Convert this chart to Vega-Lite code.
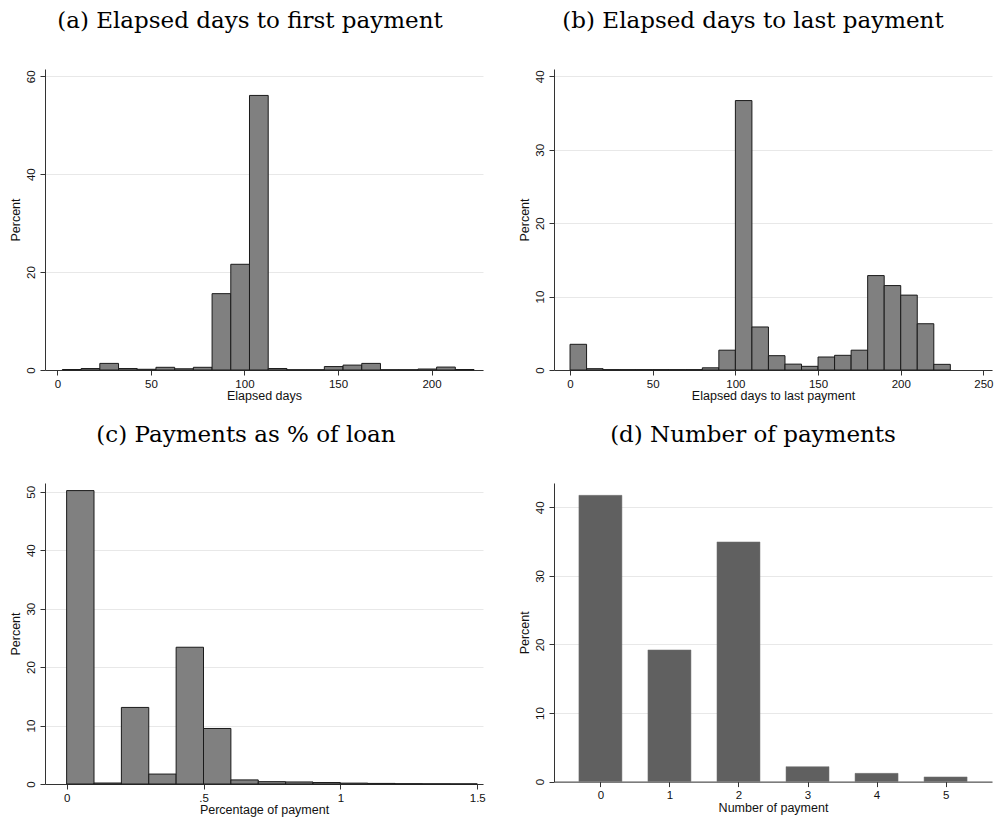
{
  "$schema": "https://vega.github.io/schema/vega-lite/v6.json",
  "autosize": {"type": "none"},
  "padding": {"left": 45, "top": 69, "right": 951, "bottom": 749},
  "background": "white",
  "config": {
    "view": {"stroke": null},
    "axis": {
      "domainColor": "#333333",
      "tickColor": "#333333",
      "labelFont": "Liberation Sans",
      "titleFont": "Liberation Sans",
      "labelFontSize": 11.5,
      "titleFontSize": 12.5,
      "labelColor": "#111111",
      "titleColor": "#111111",
      "titleFontWeight": "normal",
      "tickSize": 5,
      "grid": false,
      "domainWidth": 1
    },
    "axisY": {"grid": true, "gridColor": "#e8e8e8", "labelAngle": 270, "labelPadding": 4, "titlePadding": 3},
    "axisX": {"labelPadding": 3, "titlePadding": 0},
    "title": {
      "font": "DejaVu Serif",
      "fontSize": 23,
      "fontWeight": "normal",
      "color": "#000000",
      "anchor": "middle",
      "frame": "group",
      "offset": 36,
      "baseline": "alphabetic"
    }
  },
  "columns": 2,
  "bounds": "flush",
  "spacing": {"row": 113, "column": 71},
  "concat": [
    {
      "width": 438,
      "height": 301,
      "title": {"text": "(a) Elapsed days to first payment", "dx": -14},
      "data": {"values": [
        {"lo": 2.7, "hi": 12.7, "percent": 0.1},
        {"lo": 12.7, "hi": 22.7, "percent": 0.3},
        {"lo": 22.7, "hi": 32.7, "percent": 1.35},
        {"lo": 32.7, "hi": 42.7, "percent": 0.3},
        {"lo": 42.7, "hi": 52.7, "percent": 0.15},
        {"lo": 52.7, "hi": 62.7, "percent": 0.55},
        {"lo": 62.7, "hi": 72.7, "percent": 0.25},
        {"lo": 72.7, "hi": 82.7, "percent": 0.55},
        {"lo": 82.7, "hi": 92.7, "percent": 15.6},
        {"lo": 92.7, "hi": 102.7, "percent": 21.6},
        {"lo": 102.7, "hi": 112.7, "percent": 56.1},
        {"lo": 112.7, "hi": 122.7, "percent": 0.3},
        {"lo": 122.7, "hi": 132.7, "percent": 0.05},
        {"lo": 132.7, "hi": 142.7, "percent": 0.05},
        {"lo": 142.7, "hi": 152.7, "percent": 0.7},
        {"lo": 152.7, "hi": 162.7, "percent": 1.0},
        {"lo": 162.7, "hi": 172.7, "percent": 1.35},
        {"lo": 172.7, "hi": 182.7, "percent": 0.05},
        {"lo": 182.7, "hi": 192.7, "percent": 0.05},
        {"lo": 192.7, "hi": 202.7, "percent": 0.2},
        {"lo": 202.7, "hi": 212.7, "percent": 0.6},
        {"lo": 212.7, "hi": 222.7, "percent": 0.1}
      ]},
      "mark": {"type": "bar", "fill": "#808080", "stroke": "#1a1a1a", "strokeWidth": 1},
      "encoding": {
        "x": {"field": "lo", "type": "quantitative", "scale": {"domain": [-6.6, 227.5], "nice": false, "zero": false}, "axis": {"values": [0, 50, 100, 150, 200], "title": "Elapsed days"}},
        "x2": {"field": "hi"},
        "y": {"field": "percent", "type": "quantitative", "scale": {"domain": [0, 61.5], "nice": false}, "axis": {"values": [0, 20, 40, 60], "title": "Percent"}},
        "y2": {"datum": 0}
      }
    },
    {
      "width": 438,
      "height": 301,
      "title": {"text": "(b) Elapsed days to last payment", "dx": -20},
      "data": {"values": [
        {"lo": 0, "hi": 10, "percent": 3.5},
        {"lo": 10, "hi": 20, "percent": 0.18},
        {"lo": 20, "hi": 30, "percent": 0.05},
        {"lo": 30, "hi": 40, "percent": 0.05},
        {"lo": 40, "hi": 50, "percent": 0.05},
        {"lo": 50, "hi": 60, "percent": 0.05},
        {"lo": 60, "hi": 70, "percent": 0.05},
        {"lo": 70, "hi": 80, "percent": 0.05},
        {"lo": 80, "hi": 90, "percent": 0.3},
        {"lo": 90, "hi": 100, "percent": 2.7},
        {"lo": 100, "hi": 110, "percent": 36.7},
        {"lo": 110, "hi": 120, "percent": 5.86},
        {"lo": 120, "hi": 130, "percent": 1.95},
        {"lo": 130, "hi": 140, "percent": 0.8},
        {"lo": 140, "hi": 150, "percent": 0.5},
        {"lo": 150, "hi": 160, "percent": 1.77},
        {"lo": 160, "hi": 170, "percent": 2.0},
        {"lo": 170, "hi": 180, "percent": 2.7},
        {"lo": 180, "hi": 190, "percent": 12.86},
        {"lo": 190, "hi": 200, "percent": 11.5},
        {"lo": 200, "hi": 210, "percent": 10.2},
        {"lo": 210, "hi": 220, "percent": 6.3},
        {"lo": 220, "hi": 230, "percent": 0.77}
      ]},
      "mark": {"type": "bar", "fill": "#808080", "stroke": "#1a1a1a", "strokeWidth": 1},
      "encoding": {
        "x": {"field": "lo", "type": "quantitative", "scale": {"domain": [-9.7, 255.2], "nice": false, "zero": false}, "axis": {"values": [0, 50, 100, 150, 200, 250], "title": "Elapsed days to last payment"}},
        "x2": {"field": "hi"},
        "y": {"field": "percent", "type": "quantitative", "scale": {"domain": [0, 41], "nice": false}, "axis": {"values": [0, 10, 20, 30, 40], "title": "Percent"}},
        "y2": {"datum": 0}
      }
    },
    {
      "width": 438,
      "height": 301,
      "title": {"text": "(c) Payments as % of loan", "dx": -18},
      "data": {"values": [
        {"lo": 0, "hi": 0.1, "percent": 50.2},
        {"lo": 0.1, "hi": 0.2, "percent": 0.17},
        {"lo": 0.2, "hi": 0.3, "percent": 13.1},
        {"lo": 0.3, "hi": 0.4, "percent": 1.7},
        {"lo": 0.4, "hi": 0.5, "percent": 23.4},
        {"lo": 0.5, "hi": 0.6, "percent": 9.5},
        {"lo": 0.6, "hi": 0.7, "percent": 0.7},
        {"lo": 0.7, "hi": 0.8, "percent": 0.4},
        {"lo": 0.8, "hi": 0.9, "percent": 0.35},
        {"lo": 0.9, "hi": 1.0, "percent": 0.25},
        {"lo": 1.0, "hi": 1.1, "percent": 0.15},
        {"lo": 1.1, "hi": 1.2, "percent": 0.1},
        {"lo": 1.2, "hi": 1.3, "percent": 0.05},
        {"lo": 1.3, "hi": 1.4, "percent": 0.03},
        {"lo": 1.4, "hi": 1.5, "percent": 0.02}
      ]},
      "mark": {"type": "bar", "fill": "#808080", "stroke": "#1a1a1a", "strokeWidth": 1},
      "encoding": {
        "x": {"field": "lo", "type": "quantitative", "scale": {"domain": [-0.079, 1.521], "nice": false, "zero": false}, "axis": {"values": [0, 0.5, 1, 1.5], "labelExpr": "datum.value == 0.5 ? '.5' : format(datum.value, '~g')", "title": "Percentage of payment"}},
        "x2": {"field": "hi"},
        "y": {"field": "percent", "type": "quantitative", "scale": {"domain": [0, 51.5], "nice": false}, "axis": {"values": [0, 10, 20, 30, 40, 50], "title": "Percent"}},
        "y2": {"datum": 0}
      }
    },
    {
      "width": 438,
      "height": 298.6,
      "title": {"text": "(d) Number of payments", "dx": -20},
      "data": {"values": [
        {"payments": 0, "percent": 41.75},
        {"payments": 1, "percent": 19.2},
        {"payments": 2, "percent": 34.95},
        {"payments": 3, "percent": 2.18},
        {"payments": 4, "percent": 1.2},
        {"payments": 5, "percent": 0.68}
      ]},
      "mark": {"type": "bar", "fill": "#606060", "stroke": "#707070", "strokeWidth": 0.5, "width": 43},
      "encoding": {
        "x": {"field": "payments", "type": "quantitative", "scale": {"domain": [-0.6, 5.6], "nice": false, "zero": false}, "axis": {"values": [0, 1, 2, 3, 4, 5], "title": "Number of payment"}},
        "y": {"field": "percent", "type": "quantitative", "scale": {"domain": [0, 43.55], "nice": false}, "axis": {"values": [0, 10, 20, 30, 40], "title": "Percent"}}
      }
    }
  ]
}
